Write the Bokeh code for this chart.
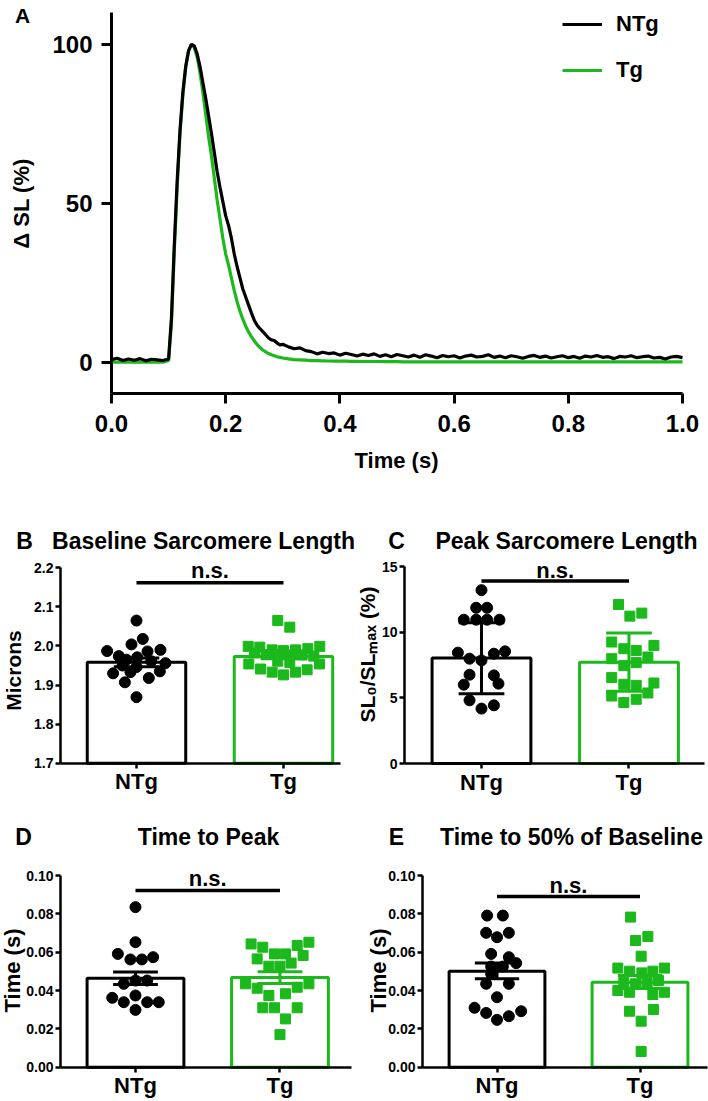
import numpy as np
from bokeh.plotting import figure
from bokeh.models import (Label, Legend, LegendItem, FixedTicker,
                          NumeralTickFormatter, Range1d)
from bokeh.layouts import column, row
from bokeh.embed import file_html
from bokeh.resources import INLINE

FONT = "Liberation Sans"
BLACK = "#000000"
GREEN = "#1bb91b"

# ---------------- Panel A data ----------------
time_s = [0.00, 0.01, 0.02, 0.03, 0.04, 0.05, 0.06, 0.07, 0.08, 0.09,
          0.100, 0.105, 0.110, 0.115, 0.120, 0.125, 0.130, 0.135, 0.140, 0.145,
          0.150, 0.155, 0.160, 0.165, 0.170, 0.175, 0.180, 0.185, 0.190, 0.195,
          0.200, 0.205, 0.210, 0.215, 0.220, 0.225, 0.230, 0.235, 0.240, 0.245,
          0.250, 0.255, 0.260, 0.265, 0.270, 0.275, 0.280, 0.285, 0.290, 0.295,
          0.300,
          0.31, 0.32, 0.33, 0.34, 0.35, 0.36, 0.37, 0.38, 0.39, 0.40,
          0.41, 0.42, 0.43, 0.44, 0.45, 0.46, 0.47, 0.48, 0.49, 0.50,
          0.51, 0.52, 0.53, 0.54, 0.55, 0.56, 0.57, 0.58, 0.59, 0.60,
          0.61, 0.62, 0.63, 0.64, 0.65, 0.66, 0.67, 0.68, 0.69, 0.70,
          0.71, 0.72, 0.73, 0.74, 0.75, 0.76, 0.77, 0.78, 0.79, 0.80,
          0.81, 0.82, 0.83, 0.84, 0.85, 0.86, 0.87, 0.88, 0.89, 0.90,
          0.91, 0.92, 0.93, 0.94, 0.95, 0.96, 0.97, 0.98, 0.99, 1.00]

ntg_trace = [0.8, 1.2, 0.5, 1.0, 0.6, 1.1, 0.4, 0.9, 0.7, 0.5,
             1.0, 14, 37, 57, 73, 85, 93, 98, 100, 99.5,
             97, 93, 88, 83, 77.5, 72, 66, 60, 55, 50.5,
             46, 43, 39, 34, 30, 26.5, 23, 20.5, 18, 15.5,
             13.2, 11.6, 10.5, 9.6, 8.6, 7.6, 7.0, 6.8, 6.0, 5.4,
             5.6,
             4.8, 4.2, 4.5, 3.6, 3.3, 2.6, 3.1, 2.7, 2.9, 2.2,
             2.8, 2.4, 1.9, 2.5, 2.1, 2.6, 1.8, 2.3, 1.7, 2.4,
             2.0, 1.6, 2.2, 1.5, 2.3, 1.9, 1.4, 2.1, 1.7, 2.0,
             1.3, 1.9, 2.2, 1.6, 1.8, 2.3, 1.5, 1.9, 1.4, 2.0,
             1.7, 1.2, 1.8, 2.1, 1.5, 1.9, 1.3, 1.7, 2.0, 1.4,
             1.8, 1.2, 1.9, 1.6, 2.1, 1.5, 1.7, 1.1, 1.8, 1.6,
             2.0, 1.4, 1.7, 1.9, 1.3, 1.5, 1.0, 1.6, 1.8, 1.4]

tg_trace = [0.0, 0.0, 0.0, 0.0, 0.0, 0.0, 0.0, 0.0, 0.0, 0.0,
            0.5, 12, 35, 55, 72, 84, 93, 98, 100, 99,
            96, 91, 85, 78, 71, 65, 58, 51, 45, 39,
            34, 30.5, 26.5, 22.5, 19, 16, 13.5, 11.3, 9.5, 8.0,
            6.7, 5.5, 4.6, 3.8, 3.2, 2.7, 2.3, 2.0, 1.7, 1.5,
            1.3,
            1.0, 0.8, 0.7, 0.6, 0.5, 0.45, 0.4, 0.35, 0.3, 0.3,
            0.3, 0.25, 0.25, 0.2, 0.2, 0.2, 0.2, 0.15, 0.15, 0.15,
            0.1, 0.1, 0.1, 0.1, 0.1, 0.1, 0.1, 0.1, 0.1, 0.1,
            0.1, 0.1, 0.1, 0.1, 0.1, 0.1, 0.1, 0.1, 0.1, 0.1,
            0.1, 0.1, 0.1, 0.1, 0.1, 0.1, 0.1, 0.1, 0.1, 0.1,
            0.1, 0.1, 0.1, 0.1, 0.1, 0.1, 0.1, 0.1, 0.1, 0.1,
            0.1, 0.1, 0.1, 0.1, 0.1, 0.1, 0.1, 0.1, 0.1, 0.1]

a_yticks = [0, 50, 100]
a_xticks = [0.0, 0.2, 0.4, 0.6, 0.8, 1.0]
groups = ["NTg", "Tg"]

# ---------------- Panel B: baseline sarcomere length (microns) ----------------
b_ntg = [2.065, 2.018, 1.987, 2.004, 1.986, 1.990, 1.974, 1.965, 1.971, 1.961,
         1.956, 1.930, 1.950, 1.946, 1.935, 1.933, 1.907, 1.918, 1.869]
b_ntg_dx = [0.0, 0.043, -0.20, -0.034, 0.075, 0.163, -0.12, -0.068, 0.005, 0.10,
            0.197, -0.159, -0.095, 0.0, 0.159, -0.041, -0.079, 0.084, 0.0]
b_tg = [2.065, 2.048, 1.999, 1.997, 1.990, 1.988, 1.990, 1.993, 1.999, 1.982,
        1.978, 1.978, 1.977, 1.977, 1.974, 1.954, 1.954, 1.941, 1.933, 1.926,
        1.933, 1.939, 1.961, 1.958]
b_tg_dx = [-0.039, 0.043, -0.24, -0.161, -0.077, 0.0, 0.082, 0.166, 0.247, -0.197,
           -0.118, -0.039, 0.043, 0.127, 0.206, -0.236, 0.245, -0.156, -0.077, 0.0,
           0.082, 0.161, -0.039, 0.043]
b_mean = [1.958, 1.973]
b_err_lo = [1.947, 1.967]
b_err_hi = [1.969, 1.979]
b_yticks = [1.7, 1.8, 1.9, 2.0, 2.1, 2.2]
b_ns = 2.162

# ---------------- Panel C: peak sarcomere length (%) ----------------
c_ntg = [13.2, 11.86, 11.86, 10.95, 10.95, 10.95, 10.95, 8.44, 8.54, 8.36,
         7.98, 7.85, 6.76, 6.71, 6.0, 6.08, 4.81, 4.43, 4.18]
c_ntg_dx = [0.0, -0.036, 0.038, -0.12, -0.036, 0.038, 0.122, -0.16, 0.16, 0.084,
            -0.081, 0.0, -0.081, 0.084, -0.12, 0.115, -0.081, 0.084, 0.0]
c_tg = [12.11, 11.22, 11.45, 9.25, 8.74, 8.61, 8.99, 7.98, 7.68, 8.11,
        7.45, 6.54, 6.03, 5.95, 6.13, 5.14, 4.64, 4.89, 5.37]
c_tg_dx = [-0.071, 0.006, 0.087, -0.117, -0.035, 0.049, 0.169, -0.117, 0.049, 0.128,
           -0.035, -0.117, -0.035, 0.049, 0.169, -0.117, -0.035, 0.049, 0.128]
c_mean = [8.03, 7.70]
c_err_lo = [5.32, 5.50]
c_err_hi = [10.72, 9.93]
c_yticks = [0, 5, 10, 15]
c_ns = 13.9

# ---------------- Panel D: time to peak (s) ----------------
d_ntg = [0.0835, 0.0652, 0.0591, 0.0562, 0.0562, 0.0574, 0.0452, 0.0452, 0.0435,
         0.0362, 0.0339, 0.0374, 0.0339, 0.0339, 0.0299]
d_ntg_dx = [0.0, 0.0, -0.122, -0.035, 0.044, 0.122, 0.0, 0.081, -0.081,
            -0.161, -0.081, 0.0, 0.081, 0.161, 0.0]
d_tg = [0.0643, 0.0626, 0.0635, 0.0652, 0.0565, 0.0591, 0.0591, 0.0583, 0.0527, 0.0527,
        0.0543, 0.0435, 0.0412, 0.0417, 0.0435, 0.0374, 0.0383, 0.0310, 0.0310, 0.0310,
        0.0252, 0.0170]
d_tg_dx = [-0.2, -0.119, 0.119, 0.2, -0.158, -0.038, 0.038, 0.16, -0.077, 0.0,
           0.077, -0.239, -0.158, 0.119, 0.2, -0.077, 0.038, -0.119, -0.038, 0.119,
           0.038, 0.0]
d_mean = [0.0464, 0.0468]
d_err_lo = [0.0432, 0.0437]
d_err_hi = [0.0496, 0.0498]
d_ns = 0.0922

# ---------------- Panel E: time to 50% of baseline (s) ----------------
e_ntg = [0.0791, 0.0791, 0.0701, 0.0678, 0.0701, 0.0591, 0.0574, 0.0525, 0.0525, 0.0543,
         0.0487, 0.0435, 0.0435, 0.0365, 0.0310, 0.0283, 0.0292, 0.0247, 0.0266]
e_ntg_dx = [-0.069, 0.041, -0.076, 0.0, 0.083, -0.041, 0.083, -0.041, 0.041, 0.134,
            -0.041, -0.076, 0.083, 0.0, -0.157, -0.076, 0.169, 0.0, 0.083]
e_tg = [0.0783, 0.0661, 0.0682, 0.0579, 0.0517, 0.0501, 0.0492, 0.0501, 0.0517, 0.0435,
        0.0443, 0.0452, 0.0443, 0.0400, 0.0391, 0.0379, 0.0391, 0.0292, 0.0301, 0.0240,
        0.0082]
e_tg_dx = [-0.066, -0.031, 0.055, 0.008, -0.155, -0.073, 0.013, 0.09, 0.171, -0.031,
           0.05, 0.129, -0.113, -0.155, -0.073, 0.09, 0.171, -0.073, 0.094, 0.008,
           0.008]
e_mean = [0.0501, 0.0443]
e_err_lo = [0.0461, 0.0410]
e_err_hi = [0.0543, 0.0478]
de_yticks = [0.0, 0.02, 0.04, 0.06, 0.08, 0.10]
e_ns = 0.089


# ---------------- helpers ----------------
class Geo:
    """Maps page pixels to data coordinates for a figure whose frame fills it."""
    def __init__(self, L, T, W, H, xr, yr):
        self.L, self.T, self.W, self.H, self.xr, self.yr = L, T, W, H, xr, yr

    def x(self, px):
        return self.xr[0] + (px - self.L) / self.W * (self.xr[1] - self.xr[0])

    def y(self, py):
        return self.yr[1] - (py - self.T) / self.H * (self.yr[1] - self.yr[0])


def make_panel(fig_box, area, xr, yr):
    """Figure whose frame covers the whole canvas; the data area (axes box)
    sits at `area` (page px) and the axes are pinned to its left/bottom."""
    fx0, fy0, fw, fh = fig_box
    L, T, R, B = area
    sx = (R - L) / (xr[1] - xr[0])
    sy = (B - T) / (yr[1] - yr[0])
    fxr = (xr[0] - (L - fx0) / sx, xr[1] + (fx0 + fw - R) / sx)
    fyr = (yr[0] - (fy0 + fh - B) / sy, yr[1] + (T - fy0) / sy)
    p = figure(width=fw, height=fh, x_range=Range1d(*fxr), y_range=Range1d(*fyr),
               output_backend="svg", toolbar_location=None, title=None,
               min_border=0, min_border_left=0, min_border_right=0,
               min_border_top=0, min_border_bottom=0)
    p.xgrid.visible = False
    p.ygrid.visible = False
    p.outline_line_color = None
    p.background_fill_color = "white"
    p.border_fill_color = "white"
    p.xaxis.fixed_location = yr[0]
    p.xaxis.bounds = xr
    p.yaxis.fixed_location = xr[0]
    p.yaxis.bounds = yr
    return p, Geo(fx0, fy0, fw, fh, fxr, fyr)


def style_axis(ax, lw, tick_out, size, standoff):
    ax.axis_line_width = lw
    ax.axis_line_color = BLACK
    ax.major_tick_line_width = lw
    ax.major_tick_line_color = BLACK
    ax.major_tick_out = tick_out
    ax.major_tick_in = 0
    ax.minor_tick_line_color = None
    ax.major_label_text_font = FONT
    ax.major_label_text_font_style = "bold"
    ax.major_label_text_font_size = size
    ax.major_label_text_color = BLACK
    ax.major_label_standoff = standoff


def add_text(p, g, px, py, text, size, angle=0.0, align="center", baseline="middle"):
    p.add_layout(Label(x=g.x(px), y=g.y(py), text=text, text_font=FONT,
                       text_font_style="bold", text_font_size=f"{size}px",
                       angle=angle, text_align=align, text_baseline=baseline,
                       text_color=BLACK))


# ---------------- Panel A ----------------
pA, gA = make_panel((0, 0, 708, 480), (111, 12, 682, 393.4), (0.0, 1.0), (-10.0, 110.0))
rt = pA.line(time_s, tg_trace, line_color=GREEN, line_width=3.2)
rn = pA.line(time_s, ntg_trace, line_color=BLACK, line_width=3.2)
pA.xaxis.ticker = FixedTicker(ticks=a_xticks)
pA.xaxis.formatter = NumeralTickFormatter(format="0.0")
pA.yaxis.ticker = FixedTicker(ticks=a_yticks)
style_axis(pA.xaxis[0], 3, 10, "24px", 11)
style_axis(pA.yaxis[0], 3, 10, "24px", 9)
add_text(pA, gA, 396, 460, "Time (s)", 22)
add_text(pA, gA, 21, 203, "\u0394 SL (%)", 22, angle=np.pi / 2)
add_text(pA, gA, 22, 15, "A", 21)
legend = Legend(items=[LegendItem(label=groups[0], renderers=[rn]),
                       LegendItem(label=groups[1], renderers=[rt])],
                location=(562, 397), orientation="vertical",
                padding=0, margin=0, spacing=20,
                glyph_width=40, glyph_height=20, label_height=20,
                label_standoff=14, border_line_alpha=0, background_fill_alpha=0,
                label_text_font=FONT, label_text_font_style="bold",
                label_text_font_size="22px", label_text_color=BLACK)
pA.add_layout(legend)


# ---------------- bar panels ----------------
def bar_panel(fig_box, area, xr, yr, yticks, yfmt,
              ntg, ntg_dx, tg, tg_dx, mean, lo, hi, ns_y, ns_text_py,
              letter, letter_pos, title, title_pos, ylabel, ylabel_pos, ylabel_size):
    p, g = make_panel(fig_box, area, xr, yr)
    xs = [1, 2]
    p.vbar(x=xs, top=mean, bottom=yr[0], width=0.67, fill_color="white",
           line_color=[BLACK, GREEN], line_width=3)
    p.scatter([1 + d for d in ntg_dx], ntg, marker="circle", size=11,
              fill_color=BLACK, line_color=BLACK)
    p.scatter([2 + d for d in tg_dx], tg, marker="square", size=10,
              fill_color=GREEN, line_color=GREEN)
    cols = [BLACK, GREEN]
    cap = 0.155
    p.segment(x0=xs, y0=lo, x1=xs, y1=hi, line_color=cols, line_width=3)
    p.segment(x0=[x - cap for x in xs], y0=lo, x1=[x + cap for x in xs], y1=lo,
              line_color=cols, line_width=3)
    p.segment(x0=[x - cap for x in xs], y0=hi, x1=[x + cap for x in xs], y1=hi,
              line_color=cols, line_width=3)
    p.segment(x0=[1], y0=[ns_y], x1=[2], y1=[ns_y], line_color=BLACK, line_width=3.5)
    p.add_layout(Label(x=1.5, y=g.y(ns_text_py), text="n.s.", text_font=FONT,
                       text_font_style="bold", text_font_size="22px",
                       text_align="center", text_baseline="middle",
                       text_color=BLACK))
    p.xaxis.ticker = FixedTicker(ticks=xs)
    p.xaxis.major_label_overrides = {1: groups[0], 2: groups[1]}
    p.yaxis.ticker = FixedTicker(ticks=yticks)
    p.yaxis.formatter = NumeralTickFormatter(format=yfmt)
    style_axis(p.xaxis[0], 2.5, 5, "22px", 1)
    style_axis(p.yaxis[0], 2.5, 5, "14px", 2)
    add_text(p, g, letter_pos[0], letter_pos[1], letter, 23)
    add_text(p, g, title_pos[0], title_pos[1], title, 23)
    add_text(p, g, ylabel_pos[0], ylabel_pos[1], ylabel, ylabel_size, angle=np.pi / 2)
    return p


pB = bar_panel((0, 480, 354, 320), (60, 567.3, 340, 762.7),
               (0.483, 2.388), (1.7, 2.2), b_yticks, "0.0",
               b_ntg, b_ntg_dx, b_tg, b_tg_dx, b_mean, b_err_lo, b_err_hi, b_ns, 570,
               "B", (24, 540), "Baseline Sarcomere Length", (203, 540),
               "Microns", (13, 670), 21)
pC = bar_panel((354, 480, 354, 320), (404, 566, 704, 763),
               (0.478, 2.512), (0.0, 15.0), c_yticks, "0",
               c_ntg, c_ntg_dx, c_tg, c_tg_dx, c_mean, c_err_lo, c_err_hi, c_ns, 570,
               "C", (396, 540), "Peak Sarcomere Length", (566, 540),
               "SL\u2080/SL\u2098\u2090\u2093 (%)", (367, 654), 21)
pD = bar_panel((0, 800, 354, 300), (60, 875, 351, 1066.7),
               (0.481, 2.495), (0.0, 0.1), de_yticks, "0.00",
               d_ntg, d_ntg_dx, d_tg, d_tg_dx, d_mean, d_err_lo, d_err_hi, d_ns, 878,
               "D", (23, 836), "Time to Peak", (208, 836),
               "Time (s)", (12, 970), 22)
pE = bar_panel((354, 800, 354, 300), (422, 875, 707, 1066.7),
               (0.479, 2.472), (0.0, 0.1), de_yticks, "0.00",
               e_ntg, e_ntg_dx, e_tg, e_tg_dx, e_mean, e_err_lo, e_err_hi, e_ns, 885,
               "E", (396, 836), "Time to 50% of Baseline", (571, 836),
               "Time (s)", (378, 970), 22)

layout = column(pA, row(pB, pC), row(pD, pE))
open("out.html", "w").write(file_html(layout, INLINE))
